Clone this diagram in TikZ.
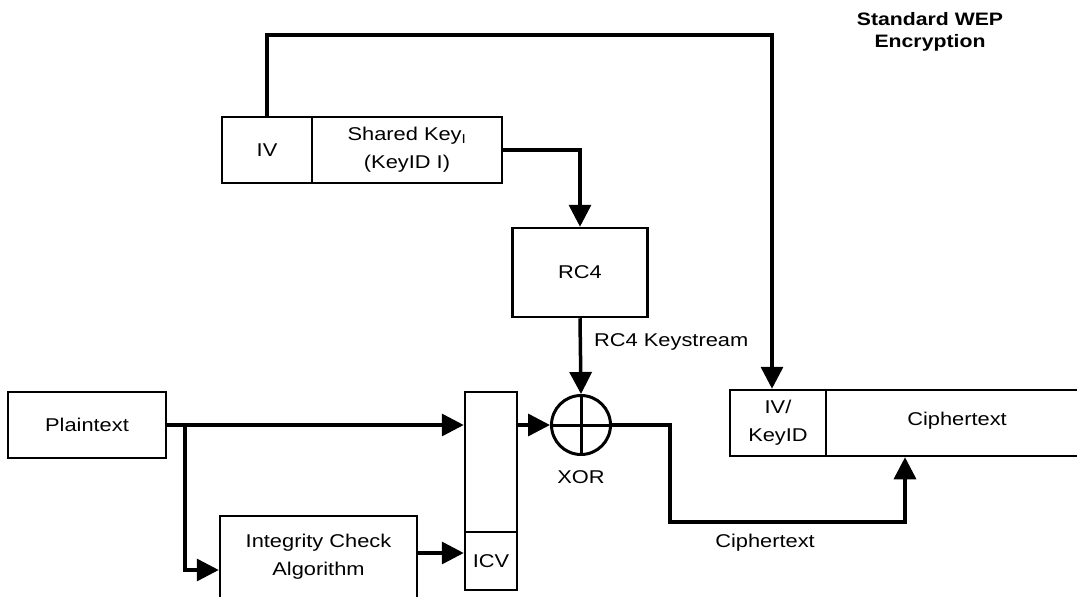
\documentclass[tikz,border=0pt]{standalone}
\usepackage{fontspec}
\setmainfont[FakeStretch=1.18]{Liberation Sans}
\usetikzlibrary{arrows.meta}
\begin{document}
\begin{tikzpicture}[x=1pt,y=-1pt,
  box/.style={draw,line width=2.5pt,rectangle,inner sep=0pt,align=center,font=\fontsize{18.5}{28}\selectfont},
  conn/.style={line width=3.5pt},
  arr/.style={line width=3.5pt,-{Triangle[length=22pt,width=22pt]}},
  lab/.style={inner sep=0pt,font=\fontsize{18.5}{28}\selectfont},
  title/.style={inner sep=0pt,align=center,font=\bfseries\fontsize{18}{22}\selectfont}]
\useasboundingbox (0,0) rectangle (1077,597);
% top key boxes
\node[box,minimum width=90pt,minimum height=66pt] (iv) at (267,150) {IV};
\node[box,minimum width=190pt,minimum height=66pt] (sk) at (407,150) {Shared Key\textsubscript{I}\\(KeyID I)};
% RC4
\node[box,minimum width=135pt,minimum height=89pt] (rc4) at (580,272.5) {RC4};
% XOR
\node[draw,circle,line width=3pt,minimum size=59pt,inner sep=0pt,
  path picture={\draw[line width=3pt] (path picture bounding box.north) -- (path picture bounding box.south)
   (path picture bounding box.west) -- (path picture bounding box.east);}] (xor) at (581,425) {};
\node[lab] (xorl) at (581,477) {XOR};
% plaintext
\node[box,minimum width=158pt,minimum height=66pt] (plain) at (87,425) {Plaintext};
% integrity
\node[box,minimum width=197pt,minimum height=86pt] (integ) at (318.5,559) {};
\node[lab,align=center] (integl) at (318.5,557) {Integrity Check\\Algorithm};
% tall message + ICV
\node[box,minimum width=52pt,minimum height=140pt] (tu) at (491,462) {};
\node[box,minimum width=52pt,minimum height=58pt] (icv) at (491,561) {ICV};
% output
\node[box,minimum width=96pt,minimum height=66pt] (ivk) at (778,423) {IV/\\KeyID};
\node[box,minimum width=274pt,minimum height=66pt] (ct) at (963,423) {};
\node[lab] (ctl) at (957,421) {Ciphertext};
% labels
\node[lab,anchor=west] (ksl) at (594,342) {RC4 Keystream};
\node[lab] (ctl2) at (765,543) {Ciphertext};
\node[title] (ttl) at (930,32) {Standard WEP\\Encryption};
% connectors
\coordinate (tr) at (772,35);
\draw[arr] (iv.north) |- (tr) -- (tr |- ivk.north);
\draw[arr] (sk.east) -| (rc4.north);
\draw[arr] (rc4.south) -- (xor.north);
\draw[arr] (plain.east) -- (plain.east -| tu.west);
\coordinate (br) at (185,425);
\draw[arr] (br) |- (integ.west |- 0,570);
\draw[arr] (integ.east |- 0,553) -- (icv.west |- 0,553);
\draw[arr] (tu.east |- xor.west) -- (xor.west);
\coordinate (c1) at (670,522);
\coordinate (c2) at (905,522);
\draw[arr] (xor.east) -| (c1) -- (c2) -- (c2 |- ivk.south);
\end{tikzpicture}
\end{document}
